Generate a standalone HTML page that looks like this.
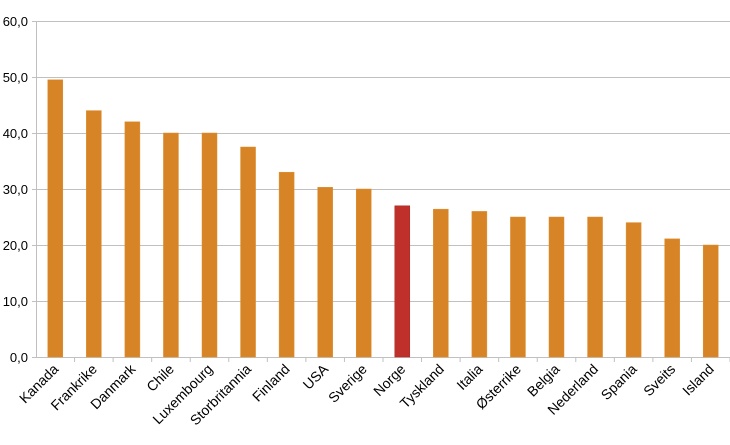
<!DOCTYPE html>
<html><head><meta charset="utf-8"><style>body{margin:0;background:#fff}</style></head><body>
<svg width="730" height="440" xmlns="http://www.w3.org/2000/svg" font-family="Liberation Sans, sans-serif" font-size="13">
<g stroke="#c0c0c0" stroke-width="1">
<line x1="32" y1="21.5" x2="730" y2="21.5"/>
<line x1="32" y1="77.5" x2="730" y2="77.5"/>
<line x1="32" y1="133.5" x2="730" y2="133.5"/>
<line x1="32" y1="189.5" x2="730" y2="189.5"/>
<line x1="32" y1="245.5" x2="730" y2="245.5"/>
<line x1="32" y1="301.5" x2="730" y2="301.5"/>
<line x1="32" y1="357.5" x2="730" y2="357.5"/>
<line x1="36.5" y1="21" x2="36.5" y2="357"/>
</g>
<g fill="#000" text-anchor="end">
<text x="28" y="26">60,0</text><text x="28" y="82">50,0</text><text x="28" y="138">40,0</text>
<text x="28" y="194">30,0</text><text x="28" y="250">20,0</text><text x="28" y="306">10,0</text><text x="28" y="362">0,0</text>
</g>
<g id="bars"></g>
<g id="ticks" stroke="#c0c0c0"></g>
<g id="labels" text-anchor="end" font-size="14"></g>
</svg>
<script>
var d=[["Kanada",49.5],["Frankrike",44],["Danmark",42],["Chile",40],["Luxembourg",40],["Storbritannia",37.5],["Finland",33],["USA",30.3],["Sverige",30],["Norge",27],["Tyskland",26.4],["Italia",26],["Østerrike",25],["Belgia",25],["Nederland",25],["Spania",24],["Sveits",21.1],["Island",20]];
var ns="http://www.w3.org/2000/svg",b=document.getElementById("bars"),t=document.getElementById("ticks"),l=document.getElementById("labels");
var n=d.length,w=(730-36)/n;
for(var i=0;i<n;i++){
var k=d[i];var cx=36+w*(i+0.5);var h=k[1]*5.6;
var r=document.createElementNS(ns,"rect");r.setAttribute("x",cx-7.5);r.setAttribute("y",357-h);r.setAttribute("width",15);r.setAttribute("height",h);
r.setAttribute("fill",k[0]=="Norge"?"#c0302a":"#d68426");r.setAttribute("stroke",k[0]=="Norge"?"#a82520":"#e09030");r.setAttribute("stroke-width","0.5");b.appendChild(r);
var tk=document.createElementNS(ns,"line");var tx=36+w*(i+1);tk.setAttribute("x1",tx);tk.setAttribute("x2",tx);tk.setAttribute("y1",357);tk.setAttribute("y2",362);t.appendChild(tk);
var tx2=document.createElementNS(ns,"text");tx2.setAttribute("transform","translate("+(cx+4)+",370) rotate(-45)");tx2.textContent=k[0];l.appendChild(tx2);
}
</script>
</body></html>
